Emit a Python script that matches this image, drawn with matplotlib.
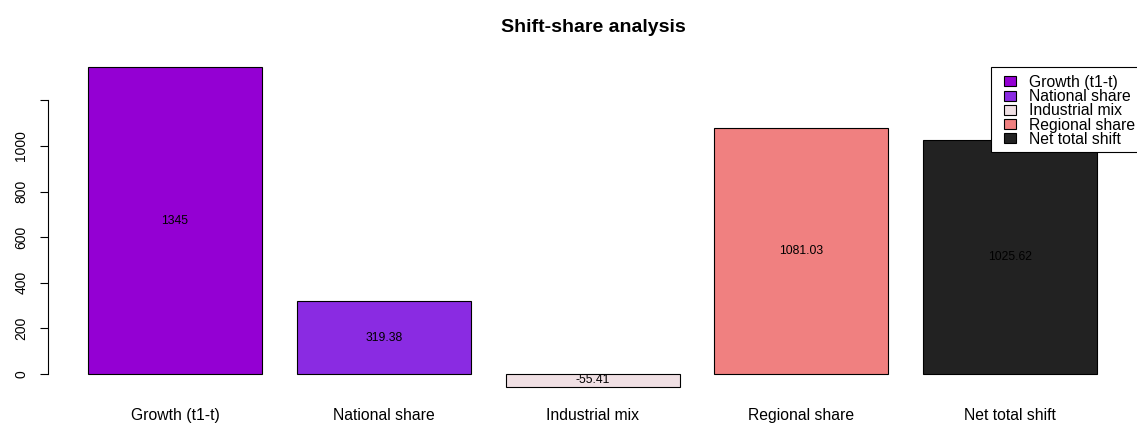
import numpy as np
import matplotlib.pyplot as plt
from matplotlib.patches import Rectangle

plt.rcParams['font.family'] = ['Liberation Sans', 'DejaVu Sans']

categories = ['Growth (t1-t)', 'National share', 'Industrial mix',
              'Regional share', 'Net total shift']
values = [1345, 319.38, -55.41, 1081.03, 1025.62]
value_labels = ['1345', '319.38', '-55.41', '1081.03', '1025.62']
colors = ['#9400D3', '#8A2BE2', '#F0E0E4', '#F08080', '#222222']
yticks = [0, 200, 400, 600, 800, 1000, 1200]
ytick_labels = ['0', '200', '400', '600', '800', '1000', '']


def main():
    fig = plt.figure(figsize=(11.37, 4.23), dpi=100)
    W, H = 1137, 423
    # plot region in pixels (R-like barplot margins)
    x0, x1 = 47.6, 1137.6
    y0, y1 = 399.4, 54.6
    ax = fig.add_axes([x0 / W, 1 - y0 / H, (x1 - x0) / W, (y0 - y1) / H])

    # R barplot layout: width 1, space 0.2
    lefts = 0.2 + 1.2 * np.arange(len(values))
    centers = lefts + 0.5
    bars = ax.bar(centers, values, width=1.0, color=colors,
                  edgecolor='black', linewidth=0.8)

    for c, v, lab in zip(centers, values, value_labels):
        ax.text(c, v / 2, lab, ha='center', va='center', fontsize=8.7)

    lo, hi = min(0, min(values)), max(values)
    pad = 0.04 * (hi - lo)
    ax.set_ylim(lo - pad, hi + pad)
    span = lefts[-1] + 1 - lefts[0]
    ax.set_xlim(lefts[0] - 0.04 * span, lefts[-1] + 1 + 0.04 * span)

    for s in ['top', 'right', 'bottom']:
        ax.spines[s].set_visible(False)
    ax.spines['left'].set_bounds(0, 1200)
    ax.spines['left'].set_linewidth(0.8)
    ax.set_yticks(yticks)
    ax.set_yticklabels(ytick_labels, rotation=90, va='center', fontsize=10)
    ax.tick_params(axis='y', length=6, width=0.8, pad=8)
    ax.set_xticks(centers)
    ax.set_xticklabels(categories, fontsize=11.3)
    ax.tick_params(axis='x', length=0, pad=6)
    ax.set_facecolor('none')

    fig.text(593 / W, 1 - 28 / H, 'Shift-share analysis', ha='center',
             va='center', fontsize=14, fontweight='bold')

    # legend box runs off the right edge, like the R device clips it
    frame = Rectangle((991 / W, 1 - 152 / H), 170 / W, 85 / H,
                      transform=fig.transFigure, facecolor='white',
                      edgecolor='black', linewidth=0.8, zorder=4)
    fig.patches.append(frame)
    leg = fig.legend(bars, categories, loc='upper left',
                     bbox_to_anchor=(1004 / W, 1 - 75 / H), fontsize=11.3,
                     frameon=False, handlelength=0.75, handleheight=0.6,
                     labelspacing=-0.05, borderpad=0, handletextpad=0.85,
                     borderaxespad=0)
    leg.set_zorder(5)

    fig.savefig('out.png', dpi=100)


if __name__ == "__main__":
    main()
